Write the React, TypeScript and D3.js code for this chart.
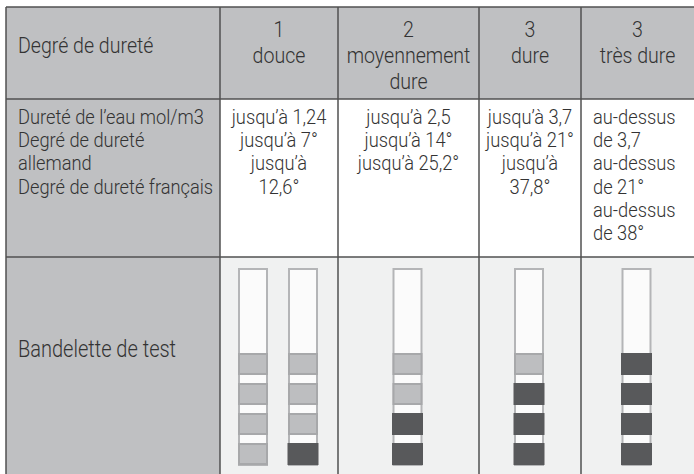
import React from "react";
import * as d3 from "d3";

const width = 694;
const height = 474;

// table content
const levelNumbers = ["1", "2", "3", "3"];
const levelNames = [["douce"], ["moyennement", "dure"], ["dure"], ["très dure"]];
const headerLabel = "Degré de dureté";
const measureLabels = [
  "Dureté de l’eau mol/m3",
  "Degré de dureté",
  "allemand",
  "Degré de dureté français",
];
const rangeValues = [
  ["jusqu’à 1,24", "jusqu’à 7°", "jusqu’à", "12,6°"],
  ["jusqu’à 2,5", "jusqu’à 14°", "jusqu’à 25,2°"],
  ["jusqu’à 3,7", "jusqu’à 21°", "jusqu’à", "37,8°"],
  ["au-dessus", "de 3,7", "au-dessus", "de 21°", "au-dessus", "de 38°"],
];
const stripLabel = "Bandelette de test";
// 0 = pad light, 1 = pad dark, top to bottom
const stripPads = [
  [
    [0, 0, 0, 0],
    [0, 0, 0, 1],
  ],
  [[0, 0, 1, 1]],
  [[0, 1, 1, 1]],
  [[1, 1, 1, 1]],
];

// layout
const colEdges = [6, 220, 338, 479, 581, 694];
const rowEdges = [7, 99, 257, 474];
const headGray = "#bfc0c2";
const stripBg = "#f0f1f1";
const lineColor = "#505050";
const textColor = "#333333";
const font = "Roboto, 'Noto Sans', sans-serif";
const squeeze = 0.87; // the original face is a condensed one

const stripTop = 268;
const stripBottom = 466;
const stripW = 30;

const padY = d3
  .scaleBand<number>()
  .domain(d3.range(4))
  .range([353, 465])
  .paddingInner(0.267)
  .paddingOuter(0);

const headLine = d3.scaleLinear().domain([0, 1]).range([37, 63]);
const bodyLine = d3.scaleLinear().domain([0, 1]).range([124, 147.2]);

// lines of text anchored at x, squeezed horizontally around x
const Lines = ({ x, lines, y, size, anchor = "start" }: any) => (
  <g transform={`translate(${x},0) scale(${squeeze},1)`}>
    <text fontSize={size} textAnchor={anchor}>
      {lines.map((t: string, j: number) => (
        <tspan key={j} x={0} y={y(j)}>
          {t}
        </tspan>
      ))}
    </text>
  </g>
);

const App = () => {
  const colCenter = (i: number) => (colEdges[i] + colEdges[i + 1]) / 2;

  return (
    <svg
      width={width}
      height={height}
      viewBox={`0 0 ${width} ${height}`}
      style={{ position: "absolute", left: 0, top: 0, background: "#fff" }}
      fontFamily={font}
      fontWeight={300}
      fill={textColor}
    >
      {/* backgrounds */}
      <rect x={colEdges[0]} y={rowEdges[0]} width={width - colEdges[0]} height={rowEdges[1] - rowEdges[0]} fill={headGray} />
      <rect x={colEdges[0]} y={rowEdges[1]} width={colEdges[1] - colEdges[0]} height={height - rowEdges[1]} fill={headGray} />
      <rect x={colEdges[1]} y={rowEdges[2]} width={width - colEdges[1]} height={height - rowEdges[2]} fill={stripBg} />

      {/* header row */}
      <Lines x={18} lines={[headerLabel]} y={() => 53} size={22.5} />
      {levelNumbers.map((n, i) => (
        <Lines key={"h" + i} x={colCenter(i + 1)} lines={[n, ...levelNames[i]]} y={headLine} size={22.5} anchor="middle" />
      ))}

      {/* measure row */}
      <Lines x={18} lines={measureLabels} y={bodyLine} size={21} />
      {rangeValues.map((lines, i) => {
        const last = i === rangeValues.length - 1;
        return (
          <Lines
            key={"v" + i}
            x={last ? colEdges[i + 1] + 12 : colCenter(i + 1)}
            lines={lines}
            y={bodyLine}
            size={21}
            anchor={last ? "start" : "middle"}
          />
        );
      })}

      {/* strip row */}
      <Lines x={18} lines={[stripLabel]} y={() => 357} size={23} />
      {stripPads.map((strips, i) => {
        const c = colCenter(i + 1);
        const sx = d3
          .scalePoint<number>()
          .domain(d3.range(strips.length))
          .range([c - 26, c + 24]);
        return (
          <g key={"s" + i}>
            {strips.map((pads, k) => {
              const x0 = (sx(k) as number) - stripW / 2;
              return (
                <g key={k}>
                  <rect
                    x={x0 + 1}
                    y={stripTop + 1}
                    width={stripW - 2}
                    height={stripBottom - stripTop - 2}
                    fill="#fbfbfb"
                    stroke="#b4b5b7"
                    strokeWidth={2}
                  />
                  {pads.map((p, m) =>
                    p ? (
                      <rect
                        key={m}
                        x={x0 - 0.5}
                        y={padY(m)}
                        width={stripW + 1}
                        height={padY.bandwidth()}
                        fill="#58595b"
                      />
                    ) : (
                      <rect
                        key={m}
                        x={x0 + 1}
                        y={(padY(m) as number) + 1}
                        width={stripW - 2}
                        height={padY.bandwidth() - 2}
                        fill="#bdbec0"
                        stroke="#a7a8aa"
                        strokeWidth={2}
                      />
                    )
                  )}
                </g>
              );
            })}
          </g>
        );
      })}

      {/* grid */}
      {rowEdges.slice(0, 3).map((y, i) => (
        <line key={"r" + i} x1={colEdges[0]} x2={width} y1={y} y2={y} stroke={lineColor} strokeWidth={1.5} />
      ))}
      {colEdges.slice(0, 5).map((x, i) => (
        <line key={"c" + i} x1={x} x2={x} y1={rowEdges[0]} y2={height} stroke={lineColor} strokeWidth={1.5} />
      ))}
    </svg>
  );
};

export default App;
